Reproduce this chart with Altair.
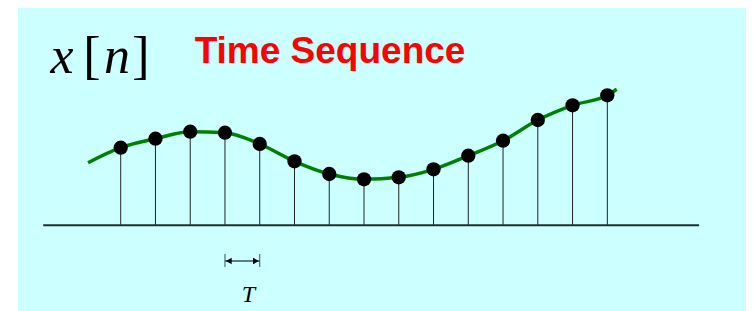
import altair as alt
import pandas as pd

# ---- data ----
sample_n = list(range(15))
sample_val = [77.6, 86.6, 93.6, 92.6, 81.3, 64.0, 51.3, 46.0, 48.0, 56.0, 69.6, 84.6, 105.3, 120.0, 130.0]

curve_n = [-0.94] + sample_n + [14.27]
curve_val = [62.6] + sample_val + [136.0]

axis_n = [-2.23, 16.64]          # extent of the horizontal time axis
period_n = [3, 4]                # the two samples marked by the T arrow
period_level = -35.7             # level of the T arrow
period_tick = [-28.7, -41.7]     # extent of the end ticks

title_text = ["Time Sequence"]
label_glyphs = ["x", "[", "n", "]"]
label_italic = ["italic", "normal", "italic", "normal"]
period_label = ["T"]

# ---- frames ----
samples = pd.DataFrame({"n": sample_n, "v": sample_val, "zero": [0] * len(sample_n)})
curve = pd.DataFrame({"n": curve_n, "v": curve_val})
axis_df = pd.DataFrame({"n": [axis_n[0]], "n2": [axis_n[1]], "v": [0]})
period_df = pd.DataFrame({"n": [period_n[0]], "n2": [period_n[1]], "v": [period_level]})
ticks_df = pd.DataFrame({"n": period_n, "v": [period_tick[0]] * 2, "v2": [period_tick[1]] * 2})
heads_df = pd.DataFrame({"n": [period_n[0] + 0.11, period_n[1] - 0.11], "v": [period_level] * 2,
                         "shape": ["triangle-left", "triangle-right"]})

W, H = 728, 303
xs = alt.Scale(domain=[-2.955, 17.99], nice=False, zero=False)
ys = alt.Scale(domain=[-85.7, 217.3], nice=False, zero=False)
X = lambda f: alt.X(f, type="quantitative", scale=xs, axis=None)
Y = lambda f: alt.Y(f, type="quantitative", scale=ys, axis=None)

stems = alt.Chart(samples).mark_rule(color="#222222", strokeWidth=1).encode(
    x=X("n"), y=Y("zero"), y2="v")

baseline = alt.Chart(axis_df).mark_rule(color="#1c3030", strokeWidth=2).encode(
    x=X("n"), x2="n2", y=Y("v"))

line = alt.Chart(curve).mark_line(color="#008000", strokeWidth=3.5, interpolate="monotone").encode(
    x=X("n"), y=Y("v"))

dots = alt.Chart(samples).mark_circle(color="black", size=205, opacity=1).encode(
    x=X("n"), y=Y("v"))

period_line = alt.Chart(period_df).mark_rule(color="#335555", strokeWidth=1.5).encode(
    x=X("n"), x2="n2", y=Y("v"))
period_ticks = alt.Chart(ticks_df).mark_rule(color="#335555", strokeWidth=1).encode(
    x=X("n"), y=Y("v"), y2="v2")
period_heads = alt.Chart(heads_df).mark_point(filled=True, color="black", size=45, opacity=1).encode(
    x=X("n"), y=Y("v"), shape=alt.Shape("shape:N", scale=None, legend=None))

title = alt.Chart(pd.DataFrame({"t": title_text})).mark_text(
    font="Liberation Sans", fontWeight="bold", fontSize=37, color="#FF0000",
    align="center", baseline="alphabetic").encode(
    text="t:N", x=alt.value(312), y=alt.value(55))

glyph_x = [44, 74, 99, 123]
glyph_layers = []
for g, st, gx in zip(label_glyphs, label_italic, glyph_x):
    glyph_layers.append(
        alt.Chart(pd.DataFrame({"t": [g]})).mark_text(
            font="Liberation Serif", fontStyle=st, fontSize=52, color="black",
            align="center", baseline="alphabetic").encode(
            text="t:N", x=alt.value(gx), y=alt.value(65)))

tlabel = alt.Chart(pd.DataFrame({"t": period_label})).mark_text(
    font="Liberation Serif", fontStyle="italic", fontSize=24, color="black",
    align="center", baseline="alphabetic").encode(
    text="t:N", x=alt.value(230.5), y=alt.value(294))

chart = alt.layer(
    stems, baseline, line, dots, period_line, period_ticks, period_heads,
    title, *glyph_layers, tlabel
).properties(
    width=W, height=H,
    padding={"left": 10, "top": 0, "right": 0, "bottom": 0},
    autosize=alt.AutoSizeParams(type="none"),
    background="white",
).configure_view(fill="#CCFFFF", stroke=None)

chart.save("out.html", embed_options={"renderer": "svg", "actions": False})
